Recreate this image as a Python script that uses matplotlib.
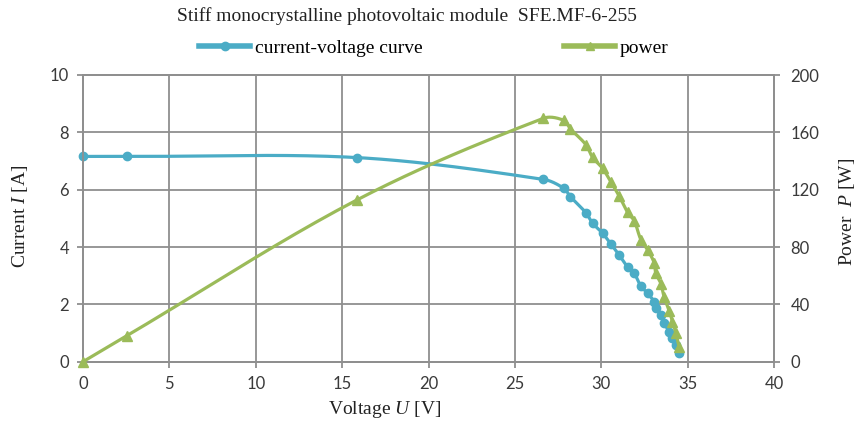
import matplotlib
matplotlib.use('Agg')
import matplotlib.pyplot as plt
import numpy as np
from matplotlib.lines import Line2D

# ---- data ----
voltage = [0.0, 2.55, 15.85, 26.65, 27.83, 28.21, 29.11, 29.5, 30.08, 30.56,
           31.04, 31.52, 31.91, 32.29, 32.68, 33.06, 33.16, 33.45, 33.64,
           33.93, 34.12, 34.32, 34.51]
current = [7.16, 7.16, 7.12, 6.36, 6.05, 5.76, 5.20, 4.83, 4.48, 4.10,
           3.72, 3.31, 3.08, 2.64, 2.39, 2.09, 1.86, 1.63, 1.34,
           1.05, 0.82, 0.58, 0.29]
power = [0.0, 18.2, 112.8, 169.8, 168.4, 162.5, 151.4, 142.5, 134.8, 125.3,
         115.5, 104.3, 98.3, 85.2, 78.1, 69.1, 61.7, 54.5, 45.1,
         35.6, 28.0, 19.9, 10.0]
x_ticks = [0, 5, 10, 15, 20, 25, 30, 35, 40]
current_ticks = [0, 2, 4, 6, 8, 10]
power_ticks = [0, 40, 80, 120, 160, 200]
title_text = "Stiff monocrystalline photovoltaic module  SFE.MF-6-255"
series_names = ["current-voltage curve", "power"]

BLUE = '#4bacc6'
GREEN = '#9bbb59'
GRID = '#8f8f8f'
TICKC = '#3a3a3a'

plt.rcParams['mathtext.fontset'] = 'custom'
plt.rcParams['mathtext.rm'] = 'Liberation Serif'
plt.rcParams['mathtext.it'] = 'Liberation Serif:italic'


def smooth(xs, ys, sx, sy, n=24):
    """Smoothed line through the points (Bezier, tangents scaled by segment length in pixels)."""
    P = np.column_stack([np.asarray(xs, float) * sx, np.asarray(ys, float) * sy])
    m = len(P)
    out = [P[0]]
    t = np.linspace(0, 1, n)[1:, None]

    def tangent(i):
        a = P[i - 1] if i > 0 else P[i]
        b = P[i + 1] if i + 1 < m else P[i]
        d = b - a
        nrm = np.hypot(*d)
        return d / nrm if nrm > 0 else d

    for i in range(m - 1):
        p1, p2 = P[i], P[i + 1]
        L = np.hypot(*(p2 - p1))
        c1 = p1 + tangent(i) * L / 3.0
        c2 = p2 - tangent(i + 1) * L / 3.0
        B = (1 - t) ** 3 * p1 + 3 * (1 - t) ** 2 * t * c1 + 3 * (1 - t) * t ** 2 * c2 + t ** 3 * p2
        out.extend(B)
    out = np.array(out)
    return out[:, 0] / sx, out[:, 1] / sy


fig = plt.figure(figsize=(8.61, 4.32), dpi=100)
ax = fig.add_axes([83 / 861, 1 - 361.7 / 432, (774 - 83) / 861, (361.7 - 75) / 432])
ax2 = ax.twinx()

ax.set_xlim(0, 40)
ax.set_ylim(0, 10)
ax2.set_ylim(0, 200)
ax.set_xticks(x_ticks)
ax.set_yticks(current_ticks)
ax2.set_yticks(power_ticks)

ax.grid(True, color=GRID, lw=1.3)
ax.set_axisbelow(True)

for a in (ax, ax2):
    for s in a.spines.values():
        s.set_color(GRID)
        s.set_linewidth(1.3)
    a.tick_params(colors=GRID, length=4, width=1.3, direction='out', labelsize=12,
                  labelcolor=TICKC)
    for lab in a.get_xticklabels() + a.get_yticklabels():
        lab.set_fontfamily('Lato')
ax.tick_params(axis='x', pad=6)
ax.tick_params(axis='y', pad=6)
ax2.tick_params(axis='y', pad=8)

PXV = 17.3     # pixels per volt
PXA = 28.67    # pixels per ampere
PXW = 28.67 / 20.0  # pixels per watt

cx, cy = smooth(voltage, current, PXV, PXA)
ax.plot(cx, cy, color=BLUE, lw=2.3, solid_capstyle='round', zorder=3)
ax.plot(voltage, current, 'o', color=BLUE, ms=6, zorder=4, clip_on=False)

px, py = smooth(voltage, power, PXV, PXW)
ax2.plot(px, py, color=GREEN, lw=2.3, solid_capstyle='round', zorder=3)
ax2.plot(voltage, power, '^', color=GREEN, ms=6.5, zorder=4, clip_on=False)

serif = 'Liberation Serif'
fig.text(407 / 861, 1 - 16 / 432, title_text, ha='center', va='center',
         fontsize=14, family=serif, color='#222222')
fig.text(385 / 861, 1 - 410 / 432, 'Voltage $\\mathit{U}$ [V]', ha='center', va='center',
         fontsize=14, family=serif, color='#222222')
fig.text(20 / 861, 1 - 216 / 432, 'Current $\\mathit{I}$ [A]', ha='center', va='center',
         rotation=90, fontsize=14, family=serif, color='#222222')
fig.text(847 / 861, 1 - 212 / 432, 'Power  $\\mathit{P}$ [W]', ha='center', va='center',
         rotation=90, fontsize=14, family=serif, color='#222222')

handles = [Line2D([], [], color=BLUE, lw=4, marker='o', ms=6),
           Line2D([], [], color=GREEN, lw=4, marker='^', ms=6)]
fig.legend(handles, series_names, loc='center', bbox_to_anchor=(434 / 861, 1 - 48 / 432),
           ncol=2, frameon=False, numpoints=1, handlelength=2.6, handletextpad=0.25,
           columnspacing=7.3, prop={'family': serif, 'size': 14})

fig.savefig('out.png', dpi=100)
